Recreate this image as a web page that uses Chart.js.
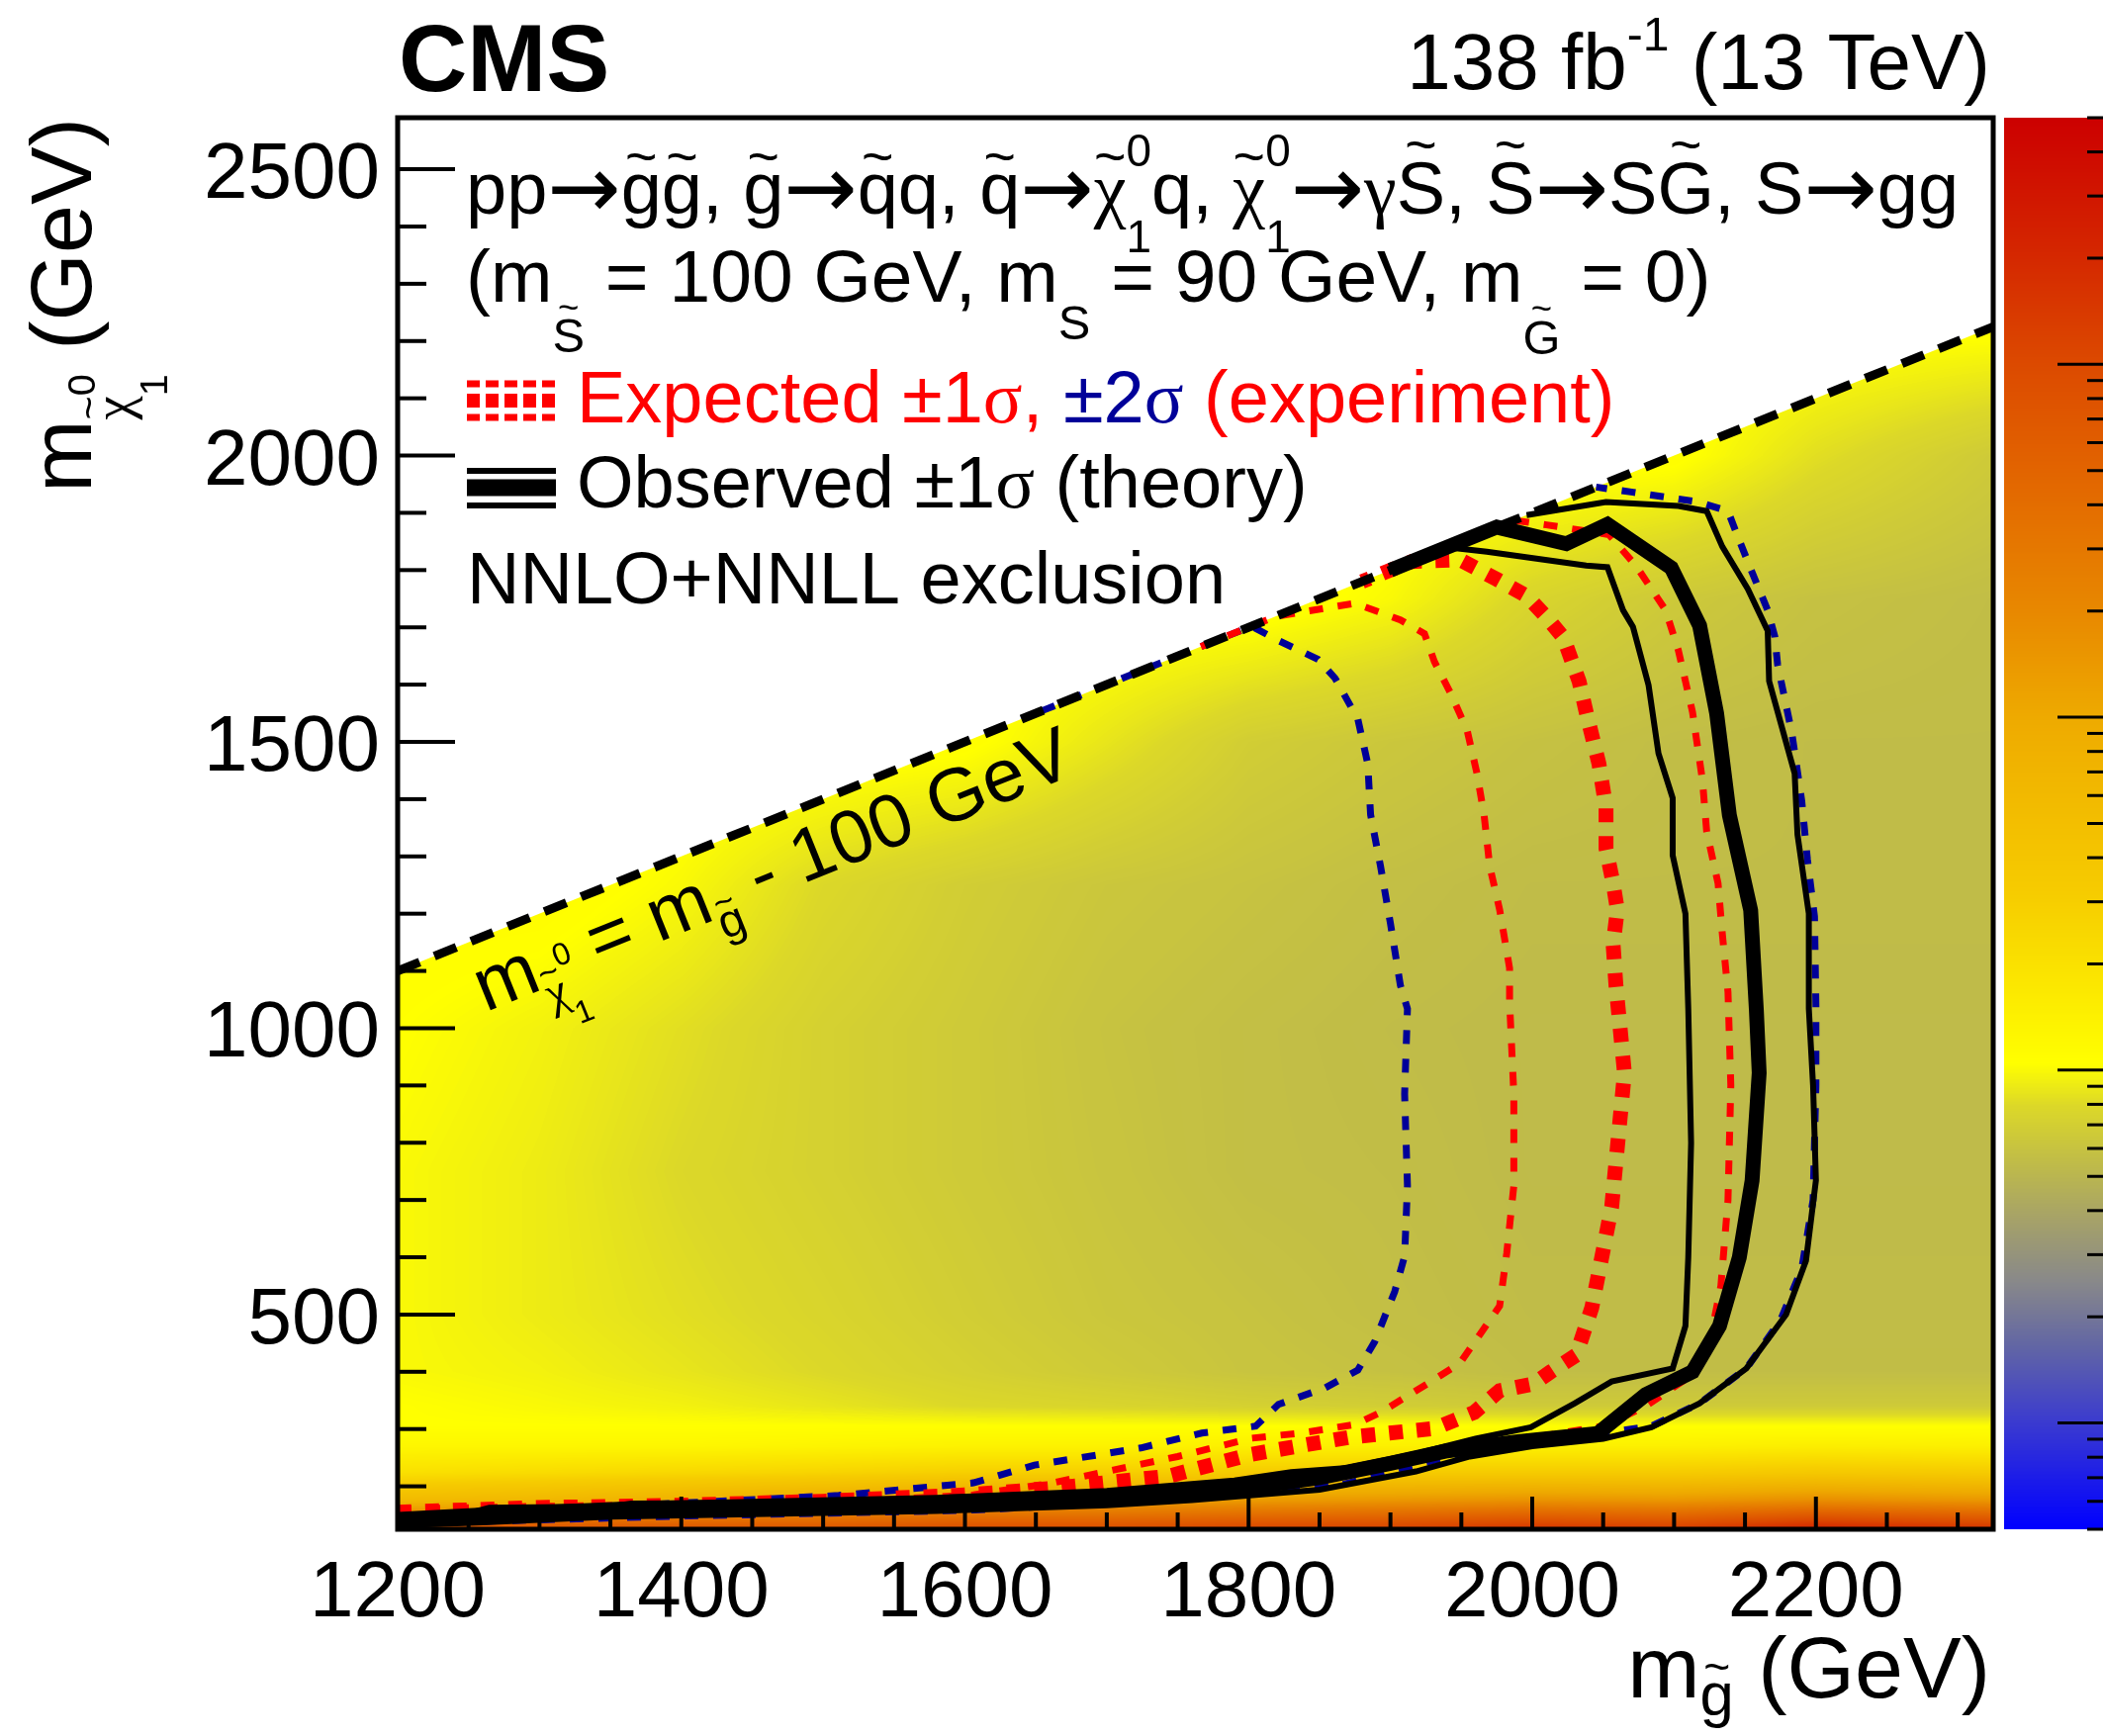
<!DOCTYPE html>
<html><head><meta charset="utf-8">
<script src="https://cdn.jsdelivr.net/npm/chart.js@4.4.1/dist/chart.umd.min.js"></script>
<style>html,body{margin:0;padding:0;background:#fff;overflow:hidden}canvas{display:block}</style>
</head><body>
<canvas id="c" width="2126" height="1755" style="width:2126px;height:1755px"></canvas>
<script>
// ---------------- DATA ----------------
const xRange = [1200, 2325];            // m_gluino (GeV)
const yRange = [125, 2590];             // m_chi (GeV)
const zRange = [5e-5, 0.5];             // colour axis (pb, log)
const xMajorTicks = [1200, 1400, 1600, 1800, 2000, 2200];
const yMajorTicks = [500, 1000, 1500, 2000, 2500];

// upper-limit grid (pb), nodes in gluino mass (x) and neutralino mass (y)
const xNodes = [1200, 1300, 1400, 1500, 1600, 1700, 1800, 1900, 2000, 2100, 2200, 2325];
const yNodes = [125, 175, 225, 270, 305, 340, 400, 500, 750, 1000, 1250, 1500, 1750, 2000, 2250];
const limit_m125  = [0.079,0.079,0.079,0.079,0.095,0.095,0.115,0.126,0.166,0.138,0.239,0.166];
const limit_m175  = [0.0060,0.0066,0.0079,0.0095,0.0126,0.0126,0.0138,0.0151,0.0166,0.0151,0.0182,0.0151];
const limit_m225  = [0.0020,0.0022,0.0024,0.0026,0.0029,0.0029,0.0032,0.0032,0.0032,0.0032,0.0035,0.0032];
const limit_m270  = [0.00126,0.00126,0.00126,0.00132,0.00138,0.00138,0.00144,0.00144,0.00144,0.00144,0.00151,0.00144];
const limit_m305  = [0.00105,0.00105,0.00105,0.00105,0.00105,0.00105,0.00105,0.00105,0.00105,0.00105,0.00105,0.00105];
const limit_m340  = [0.00105,0.00100,0.00095,0.00087,0.00079,0.00076,0.00072,0.00069,0.00066,0.00066,0.00066,0.00066];
const limit_m400  = [0.00100,0.00095,0.00087,0.00079,0.00072,0.00066,0.00061,0.00059,0.00056,0.00056,0.00056,0.00056];
const limit_m500  = [0.00100,0.00091,0.00083,0.00076,0.00069,0.00063,0.00060,0.00057,0.00055,0.00055,0.00055,0.00055];
const limit_m750  = [0.00100,0.00091,0.00079,0.00072,0.00066,0.00061,0.00057,0.00056,0.00054,0.00054,0.00054,0.00054];
const limit_m1000 = [0.00105,0.00095,0.00083,0.00072,0.00066,0.00060,0.00057,0.00055,0.00054,0.00054,0.00054,0.00054];
const limit_m1250 = [0.00115,0.00115,0.00100,0.00079,0.00069,0.00063,0.00060,0.00057,0.00055,0.00055,0.00055,0.00055];
const limit_m1500 = [0.00115,0.00115,0.00115,0.00115,0.00109,0.00087,0.00069,0.00063,0.00059,0.00056,0.00055,0.00055];
const limit_m1750 = [0.00115,0.00115,0.00115,0.00115,0.00115,0.00115,0.00115,0.00100,0.00076,0.00065,0.00059,0.00056];
const limit_m2000 = [0.00115,0.00115,0.00115,0.00115,0.00115,0.00115,0.00115,0.00115,0.00115,0.00109,0.00083,0.00066];
const limit_m2250 = [0.00115,0.00115,0.00115,0.00115,0.00115,0.00115,0.00115,0.00115,0.00115,0.00115,0.00115,0.00115];
const limitRows = [limit_m125,limit_m175,limit_m225,limit_m270,limit_m305,limit_m340,limit_m400,limit_m500,
                   limit_m750,limit_m1000,limit_m1250,limit_m1500,limit_m1750,limit_m2000,limit_m2250];

// kinematic boundary m_chi = m_gluino - 100
const diagonalX = [1200, 2325];
const diagonalY = [1100, 2225];

// exclusion contours [m_gluino, m_chi]
const observed = [[1200,140],[1250,145],[1265,155],[1350,157],[1365,162],[1570,165],[1590,173],[1660,177],[1760,190],[1800,198],[1850,215],[1900,240],[1940,262],[1990,278],[2046,292],[2080,360],[2113,400],[2132,480],[2146,600],[2155,734],[2160,922],[2158,1032],[2154,1206],[2139,1372],[2130,1550],[2118,1703],[2098,1804],[2053,1880],[2024,1846],[1975,1875],[1900,1800]];
const observedMinus = [[1200,150],[1260,158],[1360,168],[1580,180],[1700,192],[1790,210],[1830,225],[1870,232],[1920,258],[1960,283],[1999,303],[2030,345],[2056,383],[2099,406],[2108,480],[2110,600],[2112,800],[2110,1034],[2108,1200],[2099,1302],[2099,1402],[2089,1480],[2082,1599],[2071,1701],[2064,1730],[2053,1805],[2038,1808],[1968,1832],[1940,1840]];
const observedPlus = [[1200,132],[1260,137],[1350,147],[1580,157],[1700,167],[1760,176],[1850,194],[1918,226],[1956,252],[2000,270],[2050,283],[2084,303],[2118,345],[2151,406],[2179,500],[2193,594],[2200,734],[2198,900],[2195,1034],[2195,1200],[2187,1338],[2185,1445],[2167,1606],[2166,1694],[2152,1767],[2134,1841],[2123,1903],[2103,1912],[2052,1919],[1996,1896]];
const expected = [[1200,155],[1300,163],[1400,167],[1500,174],[1600,185],[1660,196],[1744,218],[1802,256],[1872,286],[1931,301],[1959,329],[1977,367],[2001,379],[2013,400],[2031,429],[2042,512],[2056,688],[2065,922],[2059,1075],[2057,1146],[2060,1207],[2057,1253],[2052,1314],[2052,1385],[2047,1462],[2038,1552],[2033,1606],[2022,1682],[2010,1718],[1996,1755],[1975,1784],[1949,1818],[1915,1815],[1880,1780]];
const expectedPlus1 = [[1200,145],[1400,155],[1600,165],[1700,178],[1790,200],[1850,222],[1900,245],[1950,268],[2000,285],[2050,305],[2080,340],[2110,390],[2125,450],[2133,550],[2138,700],[2140,900],[2138,1063],[2134,1165],[2131,1253],[2123,1343],[2120,1433],[2113,1552],[2103,1660],[2094,1730],[2073,1808],[2054,1862],[2010,1879],[1987,1887],[1930,1830]];
const expectedMinus1 = [[1200,160],[1300,165],[1400,168],[1511,172],[1606,185],[1660,205],[1750,252],[1802,284],[1837,293],[1875,308],[1893,329],[1926,379],[1949,415],[1963,465],[1977,515],[1982,607],[1987,725],[1987,885],[1984,1046],[1984,1105],[1977,1207],[1970,1283],[1966,1373],[1961,1445],[1954,1521],[1942,1587],[1931,1640],[1924,1689],[1907,1713],[1875,1742],[1819,1719],[1760,1660]];
const expectedPlus2 = [[1200,135],[1400,148],[1600,158],[1700,170],[1757,180],[1866,203],[1918,237],[1956,262],[2000,280],[2051,293],[2084,305],[2118,345],[2151,406],[2175,490],[2190,580],[2198,700],[2200,900],[2200,1039],[2199,1195],[2194,1295],[2190,1397],[2183,1516],[2173,1635],[2171,1684],[2166,1730],[2155,1796],[2145,1858],[2138,1903],[2117,1919],[2071,1936],[2045,1945]];
const expectedMinus2 = [[1200,150],[1300,160],[1393,170],[1511,184],[1606,206],[1649,237],[1724,267],[1767,293],[1805,305],[1821,343],[1854,372],[1877,403],[1889,453],[1903,540],[1910,602],[1912,725],[1910,885],[1912,1034],[1907,1075],[1900,1183],[1893,1283],[1886,1373],[1884,1462],[1877,1540],[1861,1611],[1849,1644],[1821,1677],[1802,1702],[1640,1540]];

// ---------------- STYLE / HELPERS ----------------
const RED = '#ff0000', BLUE = '#000099';
const SANS = '"Liberation Sans", Helvetica, Arial, sans-serif';
const SERIF = '"Liberation Serif", "Times New Roman", serif';
const ARROWF = '"DejaVu Sans", sans-serif';
const palT = [0, 0.075, 0.13, 0.175, 0.22, 0.26, 0.30, 0.33, 0.40, 0.45, 0.575, 0.65, 0.75, 0.825, 0.91, 1];
const palC = ['#0000ff','#3a3ad0','#6266a4','#88888a','#a6a268','#c0bc48','#dcd828','#ffff00','#fae100','#f6cc00','#eeaa00','#e88800','#e26400','#dc4a00','#d42400','#cc0000'];
function hex(c){return [parseInt(c.substr(1,2),16),parseInt(c.substr(3,2),16),parseInt(c.substr(5,2),16)];}
const LUTN = 1024, LUT = new Uint8ClampedArray(LUTN*3);
(function(){ const cs = palC.map(hex);
  for (let i=0;i<LUTN;i++){ const t=i/(LUTN-1); let k=0; while(k<palT.length-2 && t>palT[k+1]) k++;
    const f=Math.min(1,Math.max(0,(t-palT[k])/(palT[k+1]-palT[k])));
    for(let c=0;c<3;c++) LUT[i*3+c]=cs[k][c]+(cs[k+1][c]-cs[k][c])*f; } })();
function lutColor(t){ const i=Math.round(Math.min(1,Math.max(0,t))*(LUTN-1)); return `rgb(${LUT[i*3]},${LUT[i*3+1]},${LUT[i*3+2]})`; }

const T = (t, o={}) => Object.assign({t}, o);
const AR = () => ({t:'→', arrow:1, s:1.2, dy:0.05});
function fnt(p,size){ return (p.bold?'bold ':'') + ((p.s||1)*size).toFixed(1)+'px '+(p.arrow?ARROWF:(p.serif?SERIF:SANS)); }
function pw(ctx,p,size){
  if (p.sup!==undefined){ ctx.font=fnt({s:p.s},size); return Math.max(ctx.measureText(p.sup).width, ctx.measureText(p.sub).width); }
  ctx.font=fnt(p,size); return ctx.measureText(p.t).width;
}
function rich(ctx,x,y,parts,size,align,color){
  let total=0; for(const p of parts) total+=pw(ctx,p,size);
  let cx = align==='right'? x-total : align==='center'? x-total/2 : x;
  ctx.textBaseline='alphabetic';
  for (const p of parts){
    const w=pw(ctx,p,size);
    ctx.fillStyle=p.c||color||'#000'; ctx.textAlign='left';
    if (p.sup!==undefined){
      ctx.font=fnt({s:p.s},size);
      ctx.fillText(p.sup,cx,y+p.supDy*size);
      ctx.fillText(p.sub,cx,y+p.subDy*size);
    } else {
      ctx.font=fnt(p,size);
      const by=y+(p.dy||0)*size;
      ctx.fillText(p.t,cx,by);
      if (p.tilde){
        const ps=(p.s||1)*size, ts=ps*0.75;
        ctx.font=ts.toFixed(1)+'px '+SANS; ctx.textAlign='center';
        ctx.fillText('~',cx+w/2,by-(p.cap?0.93:0.77)*ps+0.33*ts);
        ctx.textAlign='left';
      }
    }
    cx+=w;
  }
}

// ---------------- PLUGINS ----------------
const heatmapPlugin = {
  id:'heatmap',
  beforeDatasetsDraw(chart){
    const {ctx, chartArea:a, scales:{x,y}} = chart;
    const W=Math.round(a.right-a.left), H=Math.round(a.bottom-a.top);
    const off=document.createElement('canvas'); off.width=W; off.height=H;
    const octx=off.getContext('2d'); const img=octx.createImageData(W,H); const d=img.data;
    const L=limitRows.map(r=>r.map(v=>Math.log10(v)));
    const L0=Math.log10(zRange[0]), L1=Math.log10(zRange[1]);
    const loc=(nodes,v)=>{let k=0; while(k<nodes.length-2 && v>nodes[k+1]) k++; return k;};
    const ci=new Int32Array(W), cf=new Float32Array(W), ri=new Int32Array(H), rf=new Float32Array(H);
    for(let i=0;i<W;i++){const v=x.getValueForPixel(a.left+i+0.5); const k=loc(xNodes,v); ci[i]=k; cf[i]=Math.min(1,Math.max(0,(v-xNodes[k])/(xNodes[k+1]-xNodes[k])));}
    for(let j=0;j<H;j++){const v=y.getValueForPixel(a.top+j+0.5); const k=loc(yNodes,v); ri[j]=k; rf[j]=Math.min(1,Math.max(0,(v-yNodes[k])/(yNodes[k+1]-yNodes[k])));}
    for(let j=0;j<H;j++){
      const r0=L[ri[j]], r1=L[ri[j]+1], fy=rf[j];
      for(let i=0;i<W;i++){
        const k=ci[i], fx=cf[i];
        const a0=r0[k]+(r0[k+1]-r0[k])*fx, a1=r1[k]+(r1[k+1]-r1[k])*fx;
        const lz=a0+(a1-a0)*fy;
        let t=(lz-L0)/(L1-L0); t=t<0?0:t>1?1:t;
        const li=Math.round(t*(LUTN-1))*3, o=(j*W+i)*4;
        d[o]=LUT[li]; d[o+1]=LUT[li+1]; d[o+2]=LUT[li+2]; d[o+3]=255;
      }
    }
    octx.putImageData(img,0,0);
    ctx.save();
    ctx.beginPath();
    ctx.moveTo(x.getPixelForValue(diagonalX[0]), y.getPixelForValue(diagonalY[0]));
    ctx.lineTo(x.getPixelForValue(diagonalX[1]), y.getPixelForValue(diagonalY[1]));
    ctx.lineTo(a.right, y.getPixelForValue(diagonalY[1]));
    ctx.lineTo(a.right, a.bottom); ctx.lineTo(a.left, a.bottom);
    ctx.lineTo(a.left, y.getPixelForValue(diagonalY[0]));
    ctx.closePath(); ctx.clip();
    ctx.drawImage(off, a.left, a.top);
    ctx.restore();
  }
};

const decorPlugin = {
  id:'decor',
  afterDraw(chart){
    const {ctx, chartArea:a, scales:{x,y,z}} = chart;
    ctx.save();
    // colour bar
    const cbL=2026, cbR=2126;
    const zpix = v => { let p = z && isFinite(z.top) ? z.getPixelForValue(v) : NaN;
      if(!isFinite(p)) p = a.bottom-(Math.log10(v)-Math.log10(zRange[0]))/(Math.log10(zRange[1])-Math.log10(zRange[0]))*(a.bottom-a.top); return p; };
    for(let py=Math.floor(a.top); py<Math.ceil(a.bottom); py++){
      const t=(a.bottom-(py+0.5))/(a.bottom-a.top);
      ctx.fillStyle=lutColor(t); ctx.fillRect(cbL,py,cbR-cbL,1);
    }
    ctx.strokeStyle='#000'; ctx.lineWidth=3;
    for(let e=-5;e<=0;e++){ for(let m=1;m<=9;m++){ const v=m*Math.pow(10,e);
      if(v<zRange[0]*0.999||v>zRange[1]*1.001) continue;
      const py=zpix(v); const len=(m===1)?46:16;
      ctx.beginPath(); ctx.moveTo(cbR,py); ctx.lineTo(cbR-len,py); ctx.stroke(); } }

    // frame
    ctx.strokeStyle='#000'; ctx.lineWidth=5;
    ctx.strokeRect(a.left,a.top,a.right-a.left,a.bottom-a.top);
    // ticks
    ctx.lineWidth=4;
    for(let v=xRange[0]; v<=xRange[1]; v+=50){ const px=x.getPixelForValue(v); const len=(v%200===0)?33:17;
      ctx.beginPath(); ctx.moveTo(px,a.bottom); ctx.lineTo(px,a.bottom-len); ctx.stroke(); }
    for(let v=Math.ceil(yRange[0]/100)*100; v<=yRange[1]; v+=100){ const py=y.getPixelForValue(v); const len=(v%500===0)?58:29;
      ctx.beginPath(); ctx.moveTo(a.left,py); ctx.lineTo(a.left+len,py); ctx.stroke(); }
    // tick labels
    ctx.fillStyle='#000'; ctx.font='80px '+SANS; ctx.textBaseline='alphabetic';
    ctx.textAlign='center';
    for(const v of xMajorTicks) ctx.fillText(String(v), x.getPixelForValue(v), a.bottom+88);
    ctx.textAlign='right';
    for(const v of yMajorTicks) ctx.fillText(String(v), a.left-18, y.getPixelForValue(v)+29);

    // axis titles
    rich(ctx, 2012, 1716, [T('m'), T('g',{s:0.7,dy:0.2,tilde:1}), T(' (GeV)')], 88, 'right');
    ctx.save(); ctx.translate(92, a.top); ctx.rotate(-Math.PI/2);
    rich(ctx, 0, 0, [T('m'), T('χ',{serif:1,s:0.62,dy:0.45,tilde:1}), {sup:'0',sub:'1',s:0.45,supDy:0.05,subDy:0.88}, T(' (GeV)')], 88, 'right');
    ctx.restore();

    // CMS + lumi
    ctx.fillStyle='#000'; ctx.textAlign='left'; ctx.font='bold 96px '+SANS; ctx.fillText('CMS', 403, 92);
    rich(ctx, 2012, 90, [T('138 fb'), T('-1',{s:0.6,dy:-0.49}), T(' (13 TeV)')], 80, 'right');

    // process text
    const stk={sup:'0',sub:'1',s:0.62,supDy:-0.65,subDy:0.53};
    rich(ctx, 471, 216, [T('pp'),AR(),T('g',{tilde:1}),T('g',{tilde:1}),T(', '),T('g',{tilde:1}),AR(),T('q',{tilde:1}),T('q, '),
      T('q',{tilde:1}),AR(),T('χ',{serif:1,tilde:1}),stk,T('q, '),T('χ',{serif:1,tilde:1}),stk,AR(),T('γ',{serif:1}),
      T('S',{tilde:1,cap:1}),T(', '),T('S',{tilde:1,cap:1}),AR(),T('S'),T('G',{tilde:1,cap:1}),T(', S'),AR(),T('gg')], 74, 'left');
    rich(ctx, 471, 305, [T('(m'),T('S',{s:0.65,dy:0.68,tilde:1,cap:1}),T(' = 100 GeV, m'),T('S',{s:0.65,dy:0.5}),
      T(' = 90 GeV, m'),T('G',{s:0.65,dy:0.7,tilde:1,cap:1}),T(' = 0)')], 75, 'left');

    // legend symbols
    const sx0=472, sx1=562;
    ctx.setLineDash([13,6]); ctx.strokeStyle=RED; ctx.lineCap='butt';
    [[388,7],[405,14],[422,7]].forEach(([yy,lw])=>{ctx.lineWidth=lw; ctx.beginPath(); ctx.moveTo(sx0,yy); ctx.lineTo(sx1,yy); ctx.stroke();});
    ctx.setLineDash([]); ctx.strokeStyle='#000';
    [[476,6],[493,17],[511,6]].forEach(([yy,lw])=>{ctx.lineWidth=lw; ctx.beginPath(); ctx.moveTo(sx0,yy); ctx.lineTo(sx1,yy); ctx.stroke();});
    rich(ctx, 583, 427, [T('Expected ±1',{c:RED}),T('σ',{serif:1,c:RED}),T(', ',{c:RED}),T('±2',{c:BLUE}),T('σ',{serif:1,c:BLUE}),T(' (experiment)',{c:RED})], 74, 'left');
    rich(ctx, 583, 513, [T('Observed ±1'),T('σ',{serif:1}),T(' (theory)')], 74, 'left');
    rich(ctx, 472, 610, [T('NNLO+NNLL exclusion')], 74, 'left');

    // diagonal label
    const p0x=x.getPixelForValue(diagonalX[0]), p0y=y.getPixelForValue(diagonalY[0]);
    const p1x=x.getPixelForValue(diagonalX[1]), p1y=y.getPixelForValue(diagonalY[1]);
    const ang=Math.atan2(p1y-p0y,p1x-p0x);
    ctx.save(); ctx.translate(x.getPixelForValue(1262), y.getPixelForValue(1028)); ctx.rotate(ang);
    rich(ctx, 0, 0, [T('m'),T('χ',{serif:1,s:0.62,dy:0.3,tilde:1}),{sup:'0',sub:'1',s:0.42,supDy:-0.2,subDy:0.62},T(' = m'),
      T('g',{s:0.62,dy:0.3,tilde:1}),T(' - 100 GeV')], 76, 'left');
    ctx.restore();
    ctx.restore();
  }
};

// ---------------- CHART ----------------
const pts = arr => arr.map(([a,b])=>({x:a,y:b}));
function line(data, color, width, dash){
  return {data:pts(data), showLine:true, borderColor:color, borderWidth:width, borderDash:dash||[],
    pointRadius:0, pointHoverRadius:0, fill:false, tension:0, borderCapStyle:'butt', borderJoinStyle:'miter', clip:0};
}
new Chart(document.getElementById('c'), {
  type:'scatter',
  data:{datasets:[
    line(observed,'#000',15),
    line(observedMinus,'#000',6),
    line(observedPlus,'#000',6),
    line(diagonalX.map((v,i)=>[v,diagonalY[i]]),'#000',9,[24,16]),
    line(expected,RED,15,[14,14]),
    line(expectedPlus1,RED,7,[14,15]),
    line(expectedMinus1,RED,7,[14,15]),
    line(expectedPlus2,BLUE,7,[14,15]),
    line(expectedMinus2,BLUE,7,[14,15])
  ]},
  options:{
    responsive:false, devicePixelRatio:1, animation:false,
    layout:{padding:{left:402,right:111,top:119,bottom:209}},
    plugins:{legend:{display:false}, tooltip:{enabled:false}, title:{display:false}},
    events:[],
    scales:{
      x:{type:'linear', min:xRange[0], max:xRange[1], display:false},
      y:{type:'linear', min:yRange[0], max:yRange[1], display:false},
      z:{type:'logarithmic', position:'right', min:zRange[0], max:zRange[1], display:false}
    }
  },
  plugins:[heatmapPlugin, decorPlugin]
});
</script>
</body></html>
